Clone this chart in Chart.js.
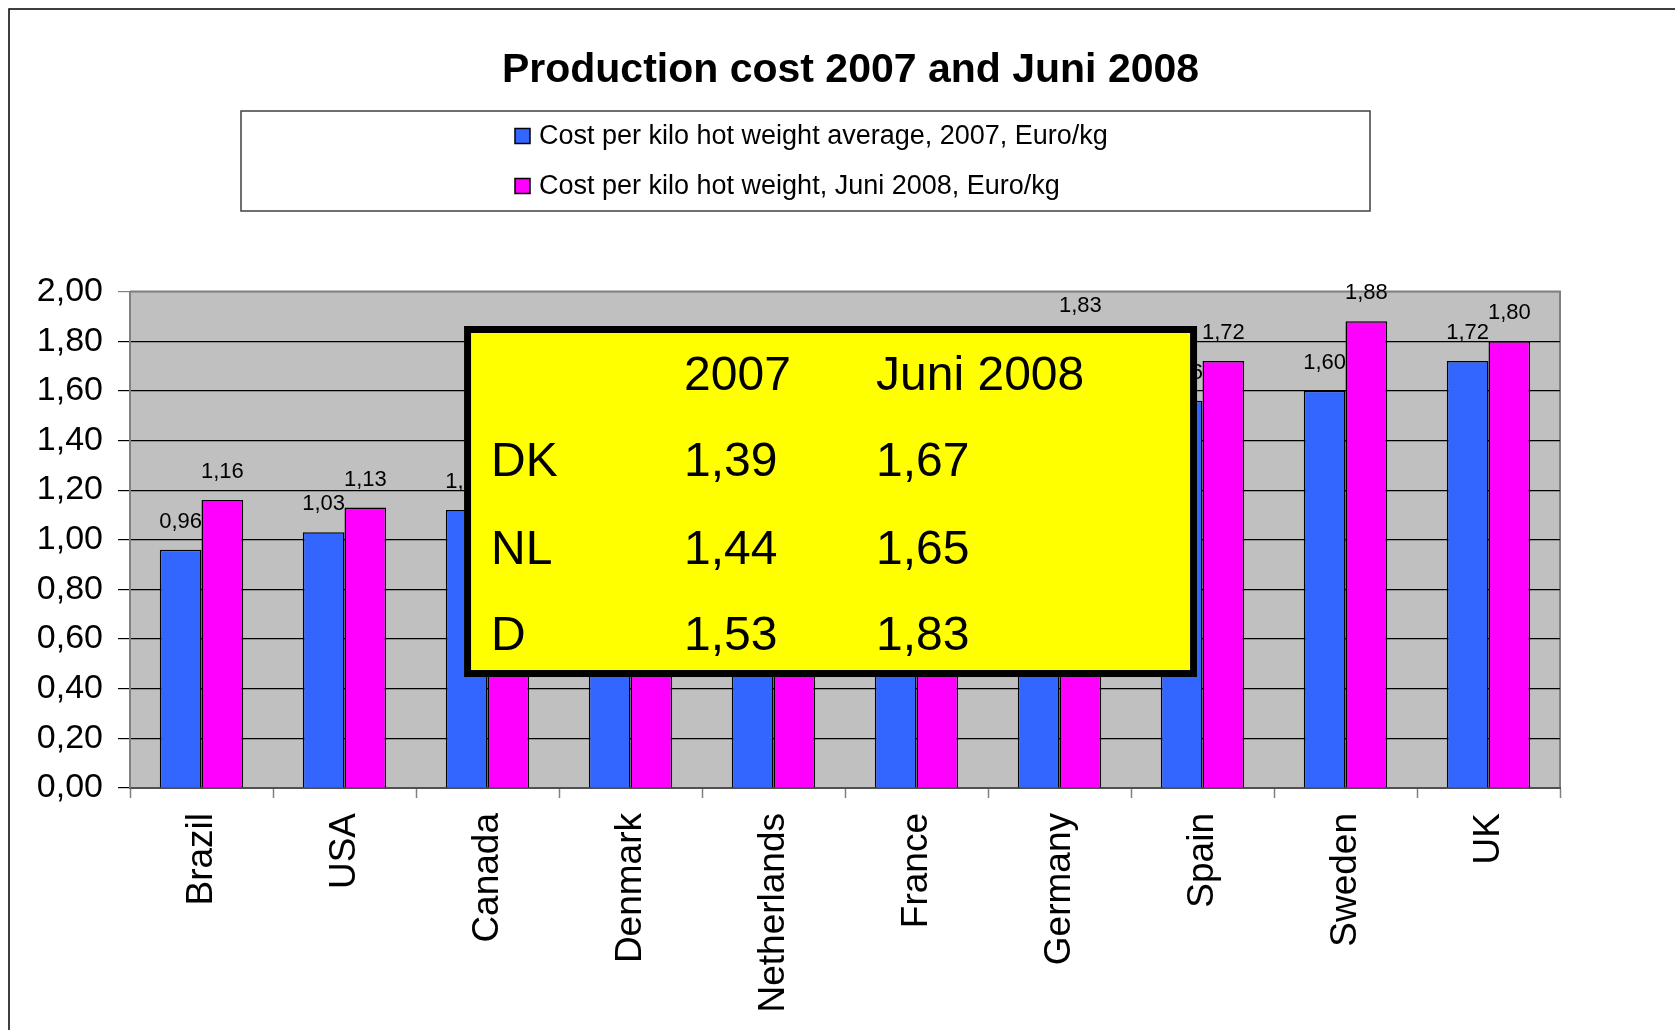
<!DOCTYPE html>
<html>
<head>
<meta charset="utf-8">
<script src="https://cdn.jsdelivr.net/npm/chart.js@4.4.0/dist/chart.umd.min.js"></script>
<style>
html,body{margin:0;padding:0;background:#fff;}
#wrap{width:1675px;height:1030px;position:relative;}
</style>
</head>
<body>
<div id="wrap"><canvas id="c" width="1675" height="1030"></canvas></div>
<script>
// ---- data ----
const titleText = 'Production cost 2007 and Juni 2008';
const categories = ['Brazil', 'USA', 'Canada', 'Denmark', 'Netherlands', 'France', 'Germany', 'Spain', 'Sweden', 'UK'];
const label2007 = 'Cost per kilo hot weight average, 2007, Euro/kg';
const label2008 = 'Cost per kilo hot weight, Juni 2008, Euro/kg';
const cost2007 = [0.96, 1.03, 1.12, 1.39, 1.44, 1.46, 1.53, 1.56, 1.60, 1.72];
const cost2008 = [1.16, 1.13, 1.29, 1.67, 1.65, 1.71, 1.83, 1.72, 1.88, 1.80];
const yTicks = [0, 0.2, 0.4, 0.6, 0.8, 1.0, 1.2, 1.4, 1.6, 1.8, 2.0];
const boxHeader = ['2007', 'Juni 2008'];
const boxCountries = ['DK', 'NL', 'D'];
const box2007 = [1.39, 1.44, 1.53];
const box2008 = [1.67, 1.65, 1.83];

// ---- styles ----
const FONT = "'Liberation Sans', Arial, Helvetica, sans-serif";
const BLUE = '#3366FF';
const PINK = '#FF00FF';
const fmt = v => v.toFixed(2).replace('.', ',');

// annotation box extent, in axis units (category index / value)
const boxExtent = {xMin: 1.836, xMax: 6.962, yMin: 0.447, yMax: 1.861};

const framePlugin = {
  id: 'frame',
  beforeDraw(chart) {
    const ctx = chart.ctx, a = chart.chartArea;
    ctx.save();
    ctx.fillStyle = '#fff';
    ctx.fillRect(0, 0, chart.width, chart.height);
    ctx.strokeStyle = '#000';
    ctx.lineWidth = 1.5;
    ctx.beginPath();
    ctx.moveTo(9, chart.height);
    ctx.lineTo(9, 9);
    ctx.lineTo(chart.width, 9);
    ctx.stroke();
    ctx.fillStyle = '#C0C0C0';
    ctx.fillRect(a.left, a.top, a.right - a.left, a.bottom - a.top);
    ctx.strokeStyle = '#808080';
    ctx.lineWidth = 2;
    ctx.beginPath();
    ctx.moveTo(a.left, a.top);
    ctx.lineTo(a.right, a.top);
    ctx.lineTo(a.right, a.bottom);
    ctx.stroke();
    ctx.restore();
  }
};

const valueLabelPlugin = {
  id: 'valueLabels',
  afterDatasetsDraw(chart) {
    const ctx = chart.ctx;
    ctx.save();
    ctx.font = '22px ' + FONT;
    ctx.fillStyle = '#000';
    ctx.textAlign = 'center';
    ctx.textBaseline = 'middle';
    chart.data.datasets.forEach((ds, i) => {
      const meta = chart.getDatasetMeta(i);
      meta.data.forEach((bar, j) => {
        ctx.fillText(fmt(ds.data[j]), bar.x, bar.y - 28);
      });
    });
    ctx.restore();
  }
};

const legendBoxPlugin = {
  id: 'legendBox',
  afterDraw(chart) {
    const ctx = chart.ctx;
    ctx.save();
    ctx.fillStyle = '#fff';
    ctx.fillRect(241, 111, 1129, 100);
    ctx.strokeStyle = '#404040';
    ctx.lineWidth = 1.5;
    ctx.strokeRect(241, 111, 1129, 100);
    ctx.font = '27px ' + FONT;
    ctx.textAlign = 'left';
    ctx.textBaseline = 'middle';
    const rows = [136, 186];
    chart.data.datasets.forEach((ds, i) => {
      const y = rows[i];
      ctx.fillStyle = ds.backgroundColor;
      ctx.fillRect(515, y - 7.5, 15, 15);
      ctx.strokeStyle = '#000';
      ctx.lineWidth = 1.5;
      ctx.strokeRect(515, y - 7.5, 15, 15);
      ctx.fillStyle = '#000';
      ctx.fillText(ds.label, 539, y + 1);
    });
    ctx.restore();
  }
};

const infoBoxPlugin = {
  id: 'infoBox',
  afterDraw(chart) {
    const ctx = chart.ctx;
    const xs = chart.scales.x, ys = chart.scales.y;
    const L = xs.getPixelForValue(boxExtent.xMin);
    const R = xs.getPixelForValue(boxExtent.xMax);
    const T = ys.getPixelForValue(boxExtent.yMax);
    const B = ys.getPixelForValue(boxExtent.yMin);
    ctx.save();
    ctx.fillStyle = '#FFFF00';
    ctx.fillRect(L, T, R - L, B - T);
    ctx.strokeStyle = '#000';
    ctx.lineWidth = 7;
    ctx.strokeRect(L + 3.5, T + 3.5, R - L - 7, B - T - 7);
    ctx.fillStyle = '#000';
    ctx.font = '48px ' + FONT;
    ctx.textAlign = 'left';
    ctx.textBaseline = 'middle';
    const colX = [L + 27, L + 220, L + 412];
    const rowY = [T + 51, T + 137, T + 225, T + 311];
    ctx.fillText(boxHeader[0], colX[1], rowY[0]);
    ctx.fillText(boxHeader[1], colX[2], rowY[0]);
    boxCountries.forEach((c, i) => {
      ctx.fillText(c, colX[0], rowY[i + 1]);
      ctx.fillText(fmt(box2007[i]), colX[1], rowY[i + 1]);
      ctx.fillText(fmt(box2008[i]), colX[2], rowY[i + 1]);
    });
    ctx.restore();
  }
};

new Chart(document.getElementById('c'), {
  type: 'bar',
  data: {
    labels: categories,
    datasets: [
      {label: label2007, data: cost2007, backgroundColor: BLUE, borderColor: '#000', borderWidth: 1.5, borderSkipped: 'start'},
      {label: label2008, data: cost2008, backgroundColor: PINK, borderColor: '#000', borderWidth: 1.5, borderSkipped: 'start'}
    ]
  },
  options: {
    responsive: false,
    animation: false,
    devicePixelRatio: 1,
    layout: {padding: {left: 26, right: 0, top: 0, bottom: 0}},
    datasets: {bar: {categoryPercentage: 0.583, barPercentage: 1.0}},
    plugins: {
      legend: {display: false},
      tooltip: {enabled: false},
      title: {
        display: true,
        text: titleText,
        color: '#000',
        font: {family: FONT, size: 41, weight: 'bold'},
        padding: {top: 46, bottom: 196.3}
      }
    },
    scales: {
      x: {
        grid: {display: true, drawOnChartArea: false, drawTicks: true, offset: true, tickLength: 10, tickColor: '#808080', tickWidth: 1.5},
        border: {display: true, color: '#505050', width: 2},
        ticks: {autoSkip: false, maxRotation: 90, minRotation: 90, padding: 15, color: '#000', font: {family: FONT, size: 37}},
        afterFit(s) { s.height = 242; }
      },
      y: {
        min: 0, max: 2,
        afterBuildTicks(s) { s.ticks = yTicks.map(v => ({value: v})); },
        grid: {
          color: c => (c.tick && c.tick.value === 2 ? '#808080' : '#000'),
          tickColor: c => (c.tick && c.tick.value === 2 ? '#808080' : '#000'),
          lineWidth: 1.2,
          tickLength: 12
        },
        border: {display: true, color: '#808080', width: 2},
        ticks: {padding: 15, color: '#000', font: {family: FONT, size: 34}, callback: v => fmt(v)},
        afterFit(s) { s.width = 104; }
      },
      y2: {
        position: 'right',
        display: true,
        grid: {display: false, drawTicks: false},
        border: {display: false},
        ticks: {display: false},
        afterFit(s) { s.width = 115; }
      }
    }
  },
  plugins: [framePlugin, valueLabelPlugin, legendBoxPlugin, infoBoxPlugin]
});
</script>
</body>
</html>
